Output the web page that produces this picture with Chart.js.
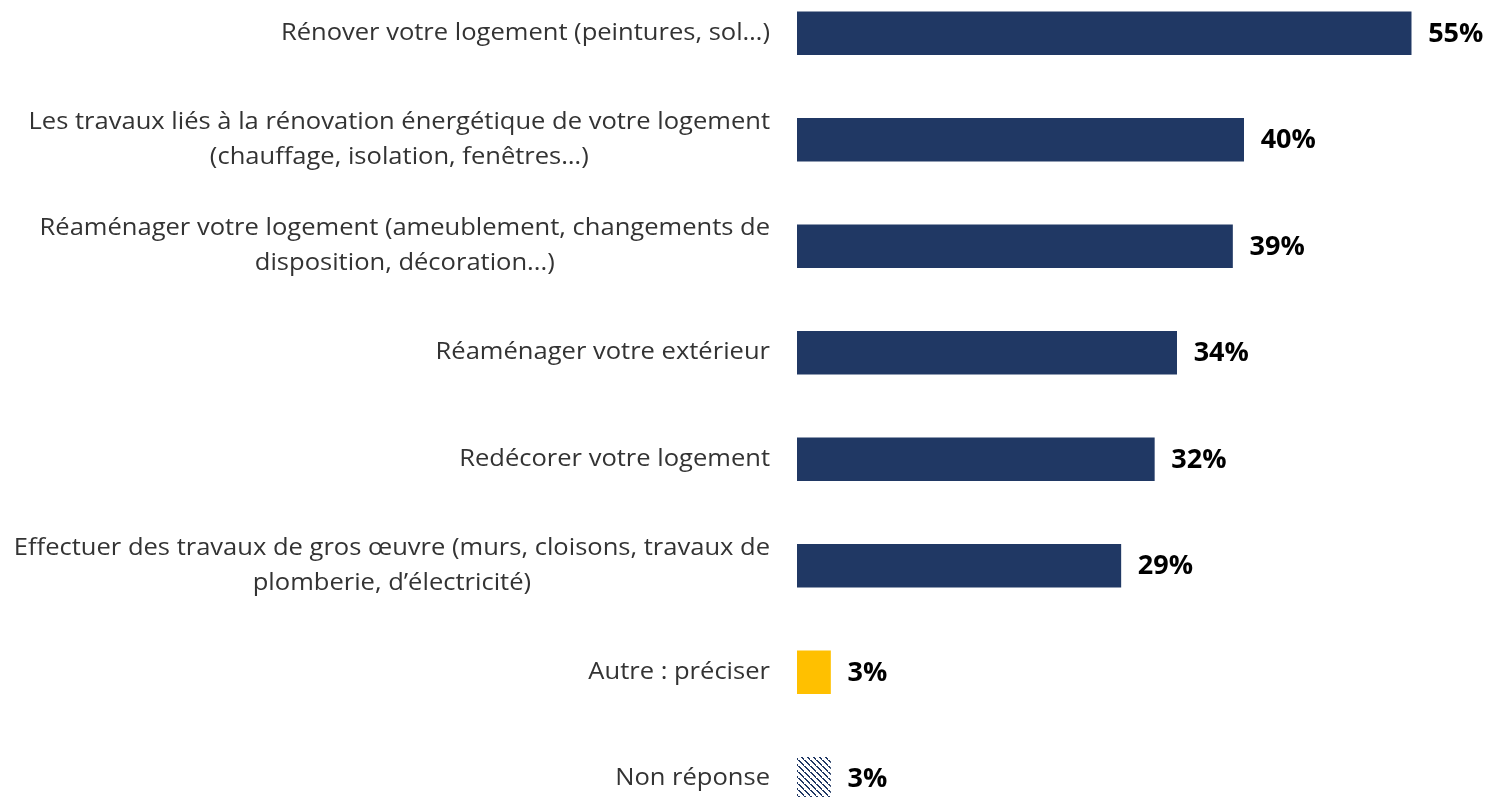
<!DOCTYPE html>
<html>
<head>
<meta charset="utf-8">
<script src="https://cdn.jsdelivr.net/npm/chart.js@4"></script>
<style>
  html, body { margin: 0; padding: 0; background: #fff; overflow: hidden; }
  #wrap { position: absolute; left: 0; top: -20px; width: 1489px; height: 852px; }
</style>
</head>
<body>
<div id="wrap"><canvas id="barChart"></canvas></div>
<script>
var categories = [
    'Rénover votre logement (peintures, sol…)',
    ['Les travaux liés à la rénovation énergétique de votre logement', '(chauffage, isolation, fenêtres…)'],
    ['Réaménager votre logement (ameublement, changements de', 'disposition, décoration...)'],
    'Réaménager votre extérieur',
    'Redécorer votre logement',
    ['Effectuer des travaux de gros œuvre (murs, cloisons, travaux de', 'plomberie, d’électricité)'],
    'Autre : préciser',
    'Non réponse'
];
var values = [55, 40, 39, 34, 32, 29, 3, 3];
var valueLabels = ['55%', '40%', '39%', '34%', '32%', '29%', '3%', '3%'];

var NAVY = '#203864';
var YELLOW = '#FFC000';
var labelFont = '23px "Open Sans"';
var stretch = 1.11; // the source text is wider than Open Sans

function hatch() {
    var c = document.createElement('canvas');
    c.width = 6; c.height = 6;
    var g = c.getContext('2d');
    g.fillStyle = '#fff';
    g.fillRect(0, 0, 6, 6);
    g.fillStyle = NAVY;
    for (var i = 0; i < 6; i++) {
        g.fillRect(i, i, 2, 1);
    }
    return g.createPattern(c, 'repeat');
}

var colors = values.map(function(v, i) {
    if (i == 6) return YELLOW;
    return NAVY;
});

// labels: block right-aligned to the axis, lines centered inside the block
var sideLabels = {
    id: 'sideLabels',
    afterDraw: function(chart) {
        var ctx = chart.ctx;
        var y = chart.scales.y;
        var right = chart.chartArea.left - 27;
        ctx.save();
        ctx.font = labelFont;
        ctx.fillStyle = '#333333';
        ctx.textBaseline = 'middle';
        ctx.textAlign = 'center';
        categories.forEach(function(lab, i) {
            var lines = Array.isArray(lab) ? lab : [lab];
            var w = 0;
            lines.forEach(function(l) { w = Math.max(w, ctx.measureText(l).width * stretch); });
            var cx = right - w / 2;
            var cy = y.getPixelForValue(i);
            var lh = 35;
            lines.forEach(function(l, k) {
                ctx.save();
                ctx.translate(cx, cy + (k - (lines.length - 1) / 2) * lh);
                ctx.scale(stretch, 1);
                ctx.fillText(l, 0, 0);
                ctx.restore();
            });
        });
        ctx.restore();
    }
};

var valueText = {
    id: 'valueText',
    afterDatasetsDraw: function(chart) {
        var ctx = chart.ctx;
        var meta = chart.getDatasetMeta(0);
        ctx.save();
        ctx.font = 'bold 27px "Open Sans"';
        ctx.fillStyle = '#000';
        ctx.textBaseline = 'middle';
        ctx.textAlign = 'left';
        meta.data.forEach(function(bar, i) {
            ctx.fillText(valueLabels[i], bar.x + 17, bar.y + 1);
        });
        ctx.restore();
    }
};

var ctx = document.getElementById('barChart').getContext('2d');
colors[7] = hatch();

var myChart = new Chart(ctx, {
    type: 'bar',
    data: {
        labels: categories,
        datasets: [{
            data: values,
            backgroundColor: colors,
            borderWidth: 0,
            barThickness: 43
        }]
    },
    options: {
        indexAxis: 'y',
        responsive: true,
        maintainAspectRatio: false,
        animation: false,
        layout: { padding: { left: 0, right: 22, top: 0, bottom: 0 } },
        plugins: {
            legend: { display: false },
            tooltip: { enabled: false }
        },
        scales: {
            x: {
                min: 0, max: 60,
                display: false
            },
            y: {
                grid: { display: false },
                border: { display: false },
                ticks: { display: false },
                afterFit: function(scale) { scale.width = 797; }
            }
        }
    },
    plugins: [sideLabels, valueText]
});
</script>
</body>
</html>
